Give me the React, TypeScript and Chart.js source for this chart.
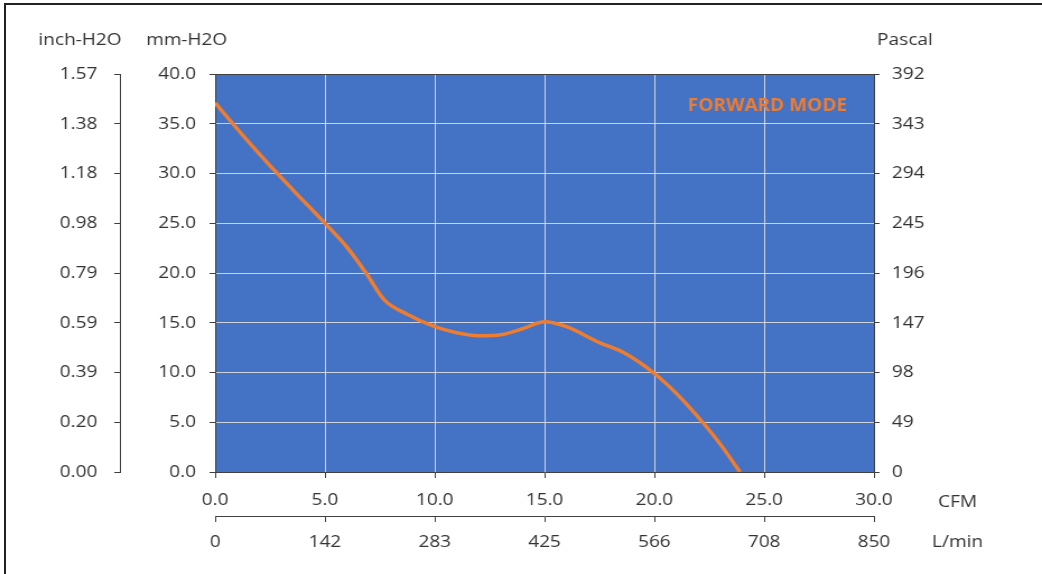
import React, { useEffect, useRef } from 'react';
import { Chart, registerables } from 'chart.js';

Chart.register(...registerables);

// ---- data ----
const cfmValues = [0, 1, 2, 3, 4, 5, 6, 6.9, 7.7, 8.7, 10, 11, 12, 13, 14, 15, 16, 17.5, 18.6, 20, 21, 22, 23, 23.9];
const mmH2OValues = [37.1, 34.5, 32.0, 29.6, 27.3, 25.0, 22.6, 19.9, 17.3, 15.9, 14.6, 14.0, 13.7, 13.8, 14.4, 15.1, 14.6, 13.0, 12.0, 9.9, 7.9, 5.5, 2.8, 0];
const inchLabels = ['0.00', '0.20', '0.39', '0.59', '0.79', '0.98', '1.18', '1.38', '1.57'];
const pascalLabels = ['0', '49', '98', '147', '196', '245', '294', '343', '392'];
const lpmLabels = ['0', '142', '283', '425', '566', '708', '850'];
const seriesLabel = 'FORWARD MODE';
const axisTitles = { inch: 'inch-H2O', mm: 'mm-H2O', pascal: 'Pascal', cfm: 'CFM', lpm: 'L/min' };

// ---- style ----
const CANVAS_W = 930;
const CANVAS_H = 574;
const STRETCH = 1042 / CANVAS_W;
const TEXT = '#333333';
const AXIS = '#404040';
const GRID = 'rgba(222,222,222,0.9)';
const PLOT_BG = '#4472C4';
const LINE = '#ED7D31';
const FAMILY = '"Open Sans", "Noto Sans", sans-serif';
const FONT = { family: FAMILY, size: 17 };

const decor = {
  id: 'decor',
  beforeDraw(chart: any) {
    const { ctx, chartArea: a } = chart;
    ctx.save();
    ctx.fillStyle = PLOT_BG;
    ctx.fillRect(a.left, a.top, a.right - a.left, a.bottom - a.top);
    ctx.restore();
  },
  afterDraw(chart: any) {
    const { ctx, chartArea: a, scales } = chart;
    ctx.save();
    ctx.strokeStyle = AXIS;
    ctx.lineWidth = 1;
    ctx.beginPath();
    const ty = Math.round(a.top) + 0.5;
    ctx.moveTo(a.left, ty);
    ctx.lineTo(a.right, ty);
    ctx.stroke();

    ctx.font = `17px ${FAMILY}`;
    ctx.fillStyle = TEXT;
    ctx.textAlign = 'center';
    ctx.textBaseline = 'alphabetic';
    const titleY = a.top - 29;
    ctx.fillText(axisTitles.inch, scales.yIn.right - 35.6, titleY);
    ctx.fillText(axisTitles.mm, scales.y.right - 25.4, titleY);
    ctx.fillText(axisTitles.pascal, scales.yPa.left + 27.7, titleY);
    ctx.fillText(axisTitles.cfm, a.right + 74.6, scales.x.top + 34.5);
    ctx.fillText(axisTitles.lpm, a.right + 74.6, scales.x2.top + 31);

    ctx.font = `bold 17px ${FAMILY}`;
    ctx.fillStyle = LINE;
    ctx.textAlign = 'right';
    ctx.fillText(seriesLabel, a.right - 24, a.top + 36.5);
    ctx.restore();
  },
};

export default function App() {
  const ref = useRef<HTMLCanvasElement | null>(null);

  useEffect(() => {
    if (!ref.current) return;
    const points = cfmValues.map((x, i) => ({ x, y: mmH2OValues[i] }));
    const chart = new Chart(ref.current, {
      type: 'line',
      data: {
        datasets: [
          {
            label: seriesLabel,
            data: points,
            borderColor: LINE,
            backgroundColor: LINE,
            borderWidth: 3.5,
            pointRadius: 0,
            fill: false,
            cubicInterpolationMode: 'monotone',
            xAxisID: 'x',
            yAxisID: 'y',
          },
        ],
      },
      options: {
        responsive: false,
        animation: false,
        layout: { padding: { left: 0, right: 0, top: 74, bottom: 0 } },
        plugins: { legend: { display: false }, tooltip: { enabled: false } },
        scales: {
          x: {
            type: 'linear',
            axis: 'x',
            position: 'bottom',
            weight: 0,
            min: 0,
            max: 30,
            ticks: { stepSize: 5, padding: 12, color: TEXT, font: FONT, maxRotation: 0, autoSkip: false, callback: (v: any) => Number(v).toFixed(1) },
            grid: { color: GRID, tickColor: AXIS, tickLength: 6, lineWidth: 1 },
            border: { display: true, color: AXIS, width: 1 },
            afterFit: (s: any) => { s.height = 44; },
          },
          x2: {
            type: 'linear',
            axis: 'x',
            position: 'bottom',
            weight: 1,
            min: 0,
            max: 30,
            ticks: { stepSize: 5, padding: 10, color: TEXT, font: FONT, maxRotation: 0, autoSkip: false, callback: (_v: any, i: number) => lpmLabels[i] },
            grid: { drawOnChartArea: false, tickColor: AXIS, tickLength: 6 },
            border: { display: true, color: AXIS, width: 1 },
            afterFit: (s: any) => { s.height = 58; },
          },
          y: {
            type: 'linear',
            axis: 'y',
            position: 'left',
            weight: 0,
            min: 0,
            max: 40,
            ticks: { stepSize: 5, padding: 12, color: TEXT, font: FONT, autoSkip: false, callback: (v: any) => Number(v).toFixed(1) },
            grid: { color: GRID, tickColor: AXIS, tickLength: 5, lineWidth: 1 },
            border: { display: true, color: AXIS, width: 1 },
            afterFit: (s: any) => { s.width = 85; },
          },
          yIn: {
            type: 'linear',
            axis: 'y',
            position: 'left',
            weight: 1,
            min: 0,
            max: 40,
            ticks: { stepSize: 5, padding: 15, color: TEXT, font: FONT, autoSkip: false, callback: (_v: any, i: number) => inchLabels[i] },
            grid: { drawOnChartArea: false, tickColor: AXIS, tickLength: 5 },
            border: { display: true, color: AXIS, width: 1 },
            afterFit: (s: any) => { s.width = 107; },
          },
          yPa: {
            type: 'linear',
            axis: 'y',
            position: 'right',
            weight: 0,
            min: 0,
            max: 40,
            ticks: { stepSize: 5, padding: 11, color: TEXT, font: FONT, autoSkip: false, callback: (_v: any, i: number) => pascalLabels[i] },
            grid: { drawOnChartArea: false, tickColor: AXIS, tickLength: 5 },
            border: { display: true, color: AXIS, width: 1 },
            afterFit: (s: any) => { s.width = 150; },
          },
        },
      } as any,
      plugins: [decor],
    });
    return () => chart.destroy();
  }, []);

  return (
    <div style={{ position: 'fixed', left: 0, top: 0, width: 1042, height: 574, background: '#fff', overflow: 'hidden' }}>
      <div
        style={{
          position: 'absolute',
          left: 0,
          top: 0,
          width: CANVAS_W,
          height: CANVAS_H,
          transform: `scaleX(${STRETCH})`,
          transformOrigin: '0 0',
        }}
      >
        <canvas ref={ref} width={CANVAS_W} height={CANVAS_H} />
      </div>
      <div
        style={{
          position: 'absolute',
          left: 4,
          top: 3,
          right: 0,
          bottom: 0,
          borderLeft: '2px solid #222',
          borderTop: '2px solid #222',
          pointerEvents: 'none',
        }}
      />
    </div>
  );
}
